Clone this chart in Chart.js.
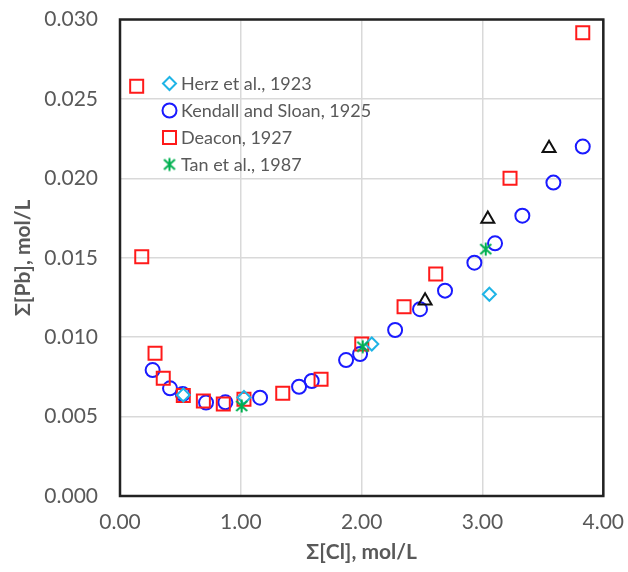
<!DOCTYPE html>
<html><head><meta charset="utf-8">
<script src="https://cdn.jsdelivr.net/npm/chart.js@4/dist/chart.umd.min.js"></script>
<style>html,body{margin:0;padding:0;background:#fff}</style>
</head><body>
<canvas id="c" width="628" height="572"></canvas>
<script>
// ---- data ----
const herzX = [0.524, 1.026, 2.084, 3.057];
const herzY = [0.00636, 0.0062, 0.00957, 0.0127];

const kendallX = [0.27, 0.414, 0.519, 0.712, 0.872, 1.159, 1.482, 1.587, 1.871, 1.987, 2.277, 2.483, 2.69, 2.933, 3.104, 3.33, 3.587, 3.83];
const kendallY = [0.00793, 0.00678, 0.00642, 0.00588, 0.0059, 0.00619, 0.00688, 0.00724, 0.00856, 0.00894, 0.01045, 0.01176, 0.01293, 0.01469, 0.01591, 0.01765, 0.01973, 0.0220];

const deaconX = [0.138, 0.18, 0.29, 0.358, 0.524, 0.69, 0.855, 1.026, 1.347, 1.664, 2.001, 2.351, 2.613, 3.228, 3.83];
const deaconY = [0.0258, 0.01507, 0.00899, 0.00741, 0.00632, 0.00598, 0.00579, 0.00609, 0.00647, 0.00735, 0.00957, 0.01192, 0.01398, 0.02001, 0.02917];

const tanX = [1.007, 2.009, 3.027];
const tanY = [0.00567, 0.0094, 0.01554];

const otherX = [2.525, 3.044, 3.551];
const otherY = [0.0123, 0.01744, 0.0219];

const xTicks = [0, 1, 2, 3, 4];
const yTicks = [0, 0.005, 0.01, 0.015, 0.02, 0.025, 0.03];
const seriesNames = ["Herz et al., 1923", "Kendall and Sloan, 1925", "Deacon, 1927", "Tan et al., 1987"];
const xTitle = "\u03A3[Cl], mol/L";
const yTitle = "\u03A3[Pb], mol/L";

const pts = (xs, ys) => xs.map((x, i) => ({x: x, y: ys[i]}));

// asterisk marker (X with vertical bar)
function makeAsterisk(color) {
  const c = document.createElement('canvas');
  c.width = 16; c.height = 16;
  const g = c.getContext('2d');
  g.strokeStyle = color; g.lineWidth = 2; g.lineCap = 'butt';
  g.beginPath();
  g.moveTo(2.5, 3); g.lineTo(13.5, 13);
  g.moveTo(13.5, 3); g.lineTo(2.5, 13);
  g.moveTo(8, 1.5); g.lineTo(8, 14.5);
  g.stroke();
  return c;
}
const asterisk = makeAsterisk('#00b050');

const FONT = "Lato, 'Liberation Sans', sans-serif";
const GRAY = '#595959';

const styles = [
  {pointStyle: 'rectRot', radius: 6.5, color: '#1fb4e6'},
  {pointStyle: 'circle', radius: 7, color: '#1a1aff'},
  {pointStyle: 'rect', radius: 9.2, color: '#ff1a1a'},
  {pointStyle: asterisk, radius: 8, color: '#00b050'}
];

const insideLegend = {
  id: 'insideLegend',
  afterDraw(chart) {
    const ctx = chart.ctx;
    ctx.save();
    ctx.font = "18px " + FONT;
    ctx.textBaseline = 'middle';
    seriesNames.forEach((n, i) => {
      const y = 83.5 + i * 27;
      const s = styles[i];
      ctx.strokeStyle = s.color;
      ctx.lineWidth = 2;
      ctx.fillStyle = 'rgba(0,0,0,0)';
      Chart.helpers.drawPoint(ctx, {pointStyle: s.pointStyle, radius: s.radius, rotation: 0, borderWidth: 2}, 169.5, y);
      ctx.fillStyle = GRAY;
      ctx.fillText(n, 181, y + 1);
    });
    ctx.restore();
  }
};

const frame = {
  id: 'frame',
  beforeDatasetsDraw(chart) {
    const a = chart.chartArea, ctx = chart.ctx;
    ctx.save();
    ctx.strokeStyle = '#222';
    ctx.lineWidth = 2.5;
    ctx.strokeRect(a.left, a.top, a.right - a.left, a.bottom - a.top);
    ctx.restore();
  }
};

function ds(label, xs, ys, style, color, radius) {
  return {
    label: label, data: pts(xs, ys),
    pointStyle: style, pointRadius: radius, pointHoverRadius: radius,
    borderColor: color, backgroundColor: 'rgba(0,0,0,0)', borderWidth: 2,
    pointBorderWidth: 2, showLine: false
  };
}

const chart = new Chart(document.getElementById('c'), {
  type: 'scatter',
  data: {
    datasets: [
      ds('Other', otherX, otherY, 'triangle', '#111', 7.5),
      ds(seriesNames[3], tanX, tanY, asterisk, '#00b050', 8),
      ds(seriesNames[0], herzX, herzY, 'rectRot', '#1fb4e6', 6.5),
      ds(seriesNames[2], deaconX, deaconY, 'rect', '#ff1a1a', 9.2),
      ds(seriesNames[1], kendallX, kendallY, 'circle', '#1a1aff', 7)
    ]
  },
  options: {
    responsive: false,
    animation: false,
    layout: {autoPadding: false, padding: {left: 0, right: 24.7, top: 19.5, bottom: 0}},
    plugins: {legend: {display: false}, tooltip: {enabled: false}},
    scales: {
      x: {
        type: 'linear', min: 0, max: 4,
        afterBuildTicks: s => { s.ticks = xTicks.map(v => ({value: v})); },
        afterFit: s => { s.height = 76; s.paddingLeft = 0; s.paddingRight = 0; },
        grid: {color: '#d9d9d9', lineWidth: 1.5, drawTicks: false},
        border: {display: false},
        ticks: {padding: 14, color: GRAY, font: {family: FONT, size: 21}, callback: v => v.toFixed(2), maxRotation: 0},
        title: {display: true, text: xTitle, color: GRAY, font: {family: FONT, size: 21, weight: 'bold'}, padding: {top: 0, bottom: 7}}
      },
      y: {
        type: 'linear', min: 0, max: 0.03,
        afterBuildTicks: s => { s.ticks = yTicks.map(v => ({value: v})); },
        afterFit: s => { s.width = 120; s.paddingTop = 0; s.paddingBottom = 0; },
        grid: {color: '#d9d9d9', lineWidth: 1.5, drawTicks: false},
        border: {display: false},
        ticks: {padding: 22, color: GRAY, font: {family: FONT, size: 21}, callback: v => v.toFixed(3)},
        title: {display: true, text: yTitle, color: GRAY, font: {family: FONT, size: 21, weight: 'bold'}, padding: {top: 11, bottom: 0}}
      }
    }
  },
  plugins: [frame, insideLegend]
});

// nudge layout padding so the plot area lands where the reference has it
const want = {top: 19.5, right: 603.3};
for (let k = 0; k < 4; k++) {
  const a = chart.chartArea;
  const p = chart.options.layout.padding;
  const np = {left: p.left, bottom: p.bottom,
              top: p.top + (want.top - a.top),
              right: p.right + (a.right - want.right)};
  chart.options.layout.padding = np;
  chart.update();
}
</script>
</body></html>
